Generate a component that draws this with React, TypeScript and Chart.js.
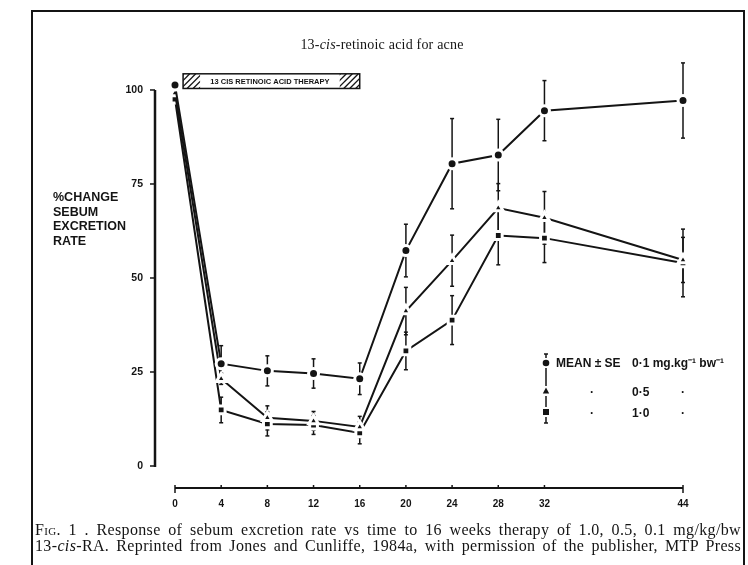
import React, { useEffect, useRef } from "react";
import { Chart, registerables } from "chart.js";

Chart.register(...registerables);

// ---- data ----
const weeks = [0, 4, 8, 12, 16, 20, 24, 28, 32, 44];
const dose01 = [101.3, 27.2, 25.3, 24.6, 23.2, 57.3, 80.4, 82.7, 94.5, 97.2];
const dose05 = [99.2, 23.2, 12.8, 12.0, 10.4, 41.2, 54.6, 68.6, 66.0, 54.8];
const dose10 = [97.6, 14.9, 11.2, 10.9, 8.8, 30.6, 38.8, 61.3, 60.6, 54.0];
const se01 = [1.0, 4.8, 4.0, 3.9, 4.2, 7.0, 12.0, 9.5, 8.0, 10.0];
const se05 = [1.0, 1.5, 3.2, 2.5, 2.8, 6.3, 6.8, 6.5, 7.0, 6.0];
const se10 = [1.0, 3.4, 3.2, 2.5, 2.9, 5.0, 6.5, 7.8, 6.5, 9.0];
const seriesLabels = ["0·1", "0·5", "1·0"];
const yTicks = [0, 25, 50, 75, 100];
const xTicks = [0, 4, 8, 12, 16, 20, 24, 28, 32, 44];
const therapyWeeks = [0.7, 16];
const therapyLevels = [100.4, 104.3];
const therapyLabel = "13 CIS RETINOIC ACID THERAPY";

const INK = "#141414";
const SANS = "'Liberation Sans', Arial, sans-serif";
const SERIF = "'Liberation Serif', 'Times New Roman', serif";

const series = [
  { label: seriesLabels[0], values: dose01, se: se01, style: "circle", r: 5 },
  { label: seriesLabels[1], values: dose05, se: se05, style: "triangle", r: 5.5 },
  { label: seriesLabels[2], values: dose10, se: se10, style: "rect", r: 5.5 },
];

function seg(ctx: CanvasRenderingContext2D, x1: number, y1: number, x2: number, y2: number) {
  ctx.beginPath();
  ctx.moveTo(x1, y1);
  ctx.lineTo(x2, y2);
  ctx.stroke();
}

const drawPlugin = {
  id: "paperDraw",
  beforeDatasetsDraw(chart: any) {
    const { ctx, chartArea } = chart;
    const xs = chart.scales.x;
    const ys = chart.scales.y;
    ctx.save();
    ctx.strokeStyle = INK;
    ctx.fillStyle = INK;

    // y axis line and ticks
    ctx.lineWidth = 2.5;
    const yl = chartArea.left;
    seg(ctx, yl, ys.getPixelForValue(yTicks[yTicks.length - 1]), yl, ys.getPixelForValue(yTicks[0]) + 1);
    ctx.lineWidth = 1.5;
    yTicks.forEach((t) => {
      const py = ys.getPixelForValue(t);
      seg(ctx, yl - 5, py, yl, py);
    });

    // x axis line and ticks
    const xb = chartArea.bottom;
    ctx.lineWidth = 2;
    const x0 = xs.getPixelForValue(xTicks[0]);
    const x1 = xs.getPixelForValue(xTicks[xTicks.length - 1]);
    seg(ctx, x0, xb, x1, xb);
    ctx.lineWidth = 1.5;
    xTicks.forEach((t) => {
      const px = xs.getPixelForValue(t);
      seg(ctx, px, xb - 3, px, xb);
    });
    seg(ctx, x0, xb, x0, xb + 5);
    seg(ctx, x1, xb, x1, xb + 5);

    // therapy bar
    const bx1 = xs.getPixelForValue(therapyWeeks[0]);
    const bx2 = xs.getPixelForValue(therapyWeeks[1]);
    const by1 = ys.getPixelForValue(therapyLevels[1]);
    const by2 = ys.getPixelForValue(therapyLevels[0]);
    ctx.lineWidth = 1.5;
    ctx.strokeRect(bx1, by1, bx2 - bx1, by2 - by1);
    const hatch = (hx1: number, hx2: number) => {
      ctx.save();
      ctx.beginPath();
      ctx.rect(hx1, by1, hx2 - hx1, by2 - by1);
      ctx.clip();
      ctx.lineWidth = 1.3;
      for (let hx = hx1 - 20; hx < hx2 + 20; hx += 6) {
        seg(ctx, hx, by2, hx + (by2 - by1), by1);
      }
      ctx.restore();
    };
    hatch(bx1, bx1 + 17);
    hatch(bx2 - 20, bx2);
    ctx.font = `bold 7.5px ${SANS}`;
    ctx.textAlign = "center";
    ctx.textBaseline = "middle";
    ctx.fillText(therapyLabel, (bx1 + 17 + bx2 - 20) / 2, (by1 + by2) / 2 + 0.5, bx2 - bx1 - 42);

    // error bars
    ctx.lineWidth = 1.5;
    series.forEach((s) => {
      s.values.forEach((v, i) => {
        const px = xs.getPixelForValue(weeks[i]);
        const top = ys.getPixelForValue(v + s.se[i]);
        const bot = ys.getPixelForValue(v - s.se[i]);
        seg(ctx, px, top, px, bot);
        seg(ctx, px - 2, top, px + 2, top);
        seg(ctx, px - 2, bot, px + 2, bot);
      });
    });
    ctx.restore();
  },
  afterDatasetsDraw(chart: any) {
    const { ctx } = chart;
    ctx.save();
    ctx.strokeStyle = INK;
    ctx.fillStyle = INK;
    // legend key column
    const lx = 546;
    ctx.lineWidth = 1.5;
    seg(ctx, lx, 354, lx, 423);
    seg(ctx, lx - 2, 354, lx + 2, 354);
    seg(ctx, lx - 2, 423, lx + 2, 423);
    const mark = (style: string, y: number) => {
      ctx.fillStyle = "#fff";
      ctx.fillRect(lx - 4, y - 5, 8, 10);
      ctx.fillStyle = INK;
      ctx.beginPath();
      if (style === "circle") ctx.arc(lx, y, 3.3, 0, Math.PI * 2);
      else if (style === "triangle") {
        ctx.moveTo(lx, y - 3.5);
        ctx.lineTo(lx + 3.2, y + 2.5);
        ctx.lineTo(lx - 3.2, y + 2.5);
        ctx.closePath();
      } else ctx.rect(lx - 3, y - 3, 6, 6);
      ctx.fill();
    };
    mark("circle", 363);
    mark("triangle", 391);
    mark("rect", 412);
    ctx.restore();
  },
};

export default function App() {
  const canvasRef = useRef<HTMLCanvasElement | null>(null);

  useEffect(() => {
    const canvas = canvasRef.current;
    if (!canvas) return;
    const chart = new Chart(canvas, {
      type: "line",
      data: {
        datasets: series.map((s) => ({
          label: s.label,
          data: weeks.map((w, i) => ({ x: w, y: s.values[i] })),
          borderColor: INK,
          borderWidth: 2,
          tension: 0,
          fill: false,
          pointStyle: s.style as any,
          pointRadius: s.r,
          pointBackgroundColor: INK,
          pointBorderColor: "#ffffff",
          pointBorderWidth: 3,
          clip: false as any,
        })),
      },
      options: {
        animation: false,
        responsive: false,
        events: [],
        layout: { padding: { left: 115, right: 65, top: 52, bottom: 47 } },
        plugins: {
          legend: { display: false },
          tooltip: { enabled: false },
          title: { display: false },
        },
        scales: {
          x: {
            type: "linear",
            min: -1.732,
            max: 44,
            grid: { display: false, drawTicks: false },
            border: { display: false },
            afterBuildTicks: (s: any) => {
              s.ticks = xTicks.map((v) => ({ value: v }));
            },
            afterFit: (s: any) => {
              s.height = 30;
            },
            ticks: {
              autoSkip: false,
              maxRotation: 0,
              padding: 10,
              color: INK,
              font: { family: SANS, size: 10, weight: "bold" },
              callback: (v: any) => String(v),
            },
          },
          y: {
            type: "linear",
            min: -5.85,
            max: 110.1,
            grid: { display: false, drawTicks: false },
            border: { display: false },
            afterBuildTicks: (s: any) => {
              s.ticks = yTicks.map((v) => ({ value: v }));
            },
            afterFit: (s: any) => {
              s.width = 40;
            },
            ticks: {
              padding: 12,
              color: INK,
              font: { family: SANS, size: 10.5, weight: "bold" },
              callback: (v: any) => String(v),
            },
          },
        },
      },
      plugins: [drawPlugin],
    });
    return () => chart.destroy();
  }, []);

  const legendText: React.CSSProperties = {
    position: "absolute",
    fontFamily: SANS,
    fontWeight: "bold",
    fontSize: 12,
    color: INK,
    whiteSpace: "nowrap",
    lineHeight: "14px",
  };

  return (
    <div
      style={{
        position: "absolute",
        left: 0,
        top: 0,
        width: 748,
        height: 565,
        overflow: "hidden",
        background: "#fff",
      }}
    >
      <div
        style={{
          position: "absolute",
          left: 31,
          top: 10,
          width: 714,
          height: 620,
          border: `2px solid ${INK}`,
          boxSizing: "border-box",
        }}
      />
      <canvas ref={canvasRef} width={748} height={565} style={{ position: "absolute", left: 0, top: 0 }} />
      <div
        style={{
          position: "absolute",
          left: 232,
          top: 37,
          width: 300,
          textAlign: "center",
          fontFamily: SERIF,
          fontSize: 14,
          letterSpacing: "0.2px",
          color: INK,
          lineHeight: "16px",
        }}
      >
        13-<i>cis</i>-retinoic acid for acne
      </div>
      <div
        style={{
          position: "absolute",
          left: 53,
          top: 190,
          fontFamily: SANS,
          fontWeight: "bold",
          fontSize: 12.5,
          lineHeight: "14.6px",
          color: INK,
        }}
      >
        <div>%CHANGE</div>
        <div>SEBUM</div>
        <div>EXCRETION</div>
        <div>RATE</div>
      </div>
      <div style={{ ...legendText, left: 556, top: 356 }}>MEAN ± SE</div>
      <div style={{ ...legendText, left: 632, top: 356 }}>
        {seriesLabels[0]} mg.kg⁻¹ bw⁻¹
      </div>
      <div style={{ ...legendText, left: 590, top: 385 }}>·</div>
      <div style={{ ...legendText, left: 632, top: 385 }}>{seriesLabels[1]}</div>
      <div style={{ ...legendText, left: 681, top: 385 }}>·</div>
      <div style={{ ...legendText, left: 590, top: 406 }}>·</div>
      <div style={{ ...legendText, left: 632, top: 406 }}>{seriesLabels[2]}</div>
      <div style={{ ...legendText, left: 681, top: 406 }}>·</div>
      <div
        style={{
          position: "absolute",
          left: 35,
          top: 522,
          width: 706,
          fontFamily: SERIF,
          fontSize: 16,
          letterSpacing: "0.35px",
          lineHeight: "15.5px",
          color: INK,
        }}
      >
        <div style={{ textAlign: "justify", textAlignLast: "justify" as any, whiteSpace: "nowrap" }}>
          <span style={{ fontVariant: "small-caps" }}>Fig.</span> 1 . Response of sebum excretion rate vs time to 16 weeks therapy of 1.0, 0.5, 0.1 mg/kg/bw
        </div>
        <div style={{ textAlign: "justify", textAlignLast: "justify" as any, whiteSpace: "nowrap" }}>
          13-<i>cis</i>-RA. Reprinted from Jones and Cunliffe, 1984a, with permission of the publisher, MTP Press
        </div>
      </div>
    </div>
  );
}
